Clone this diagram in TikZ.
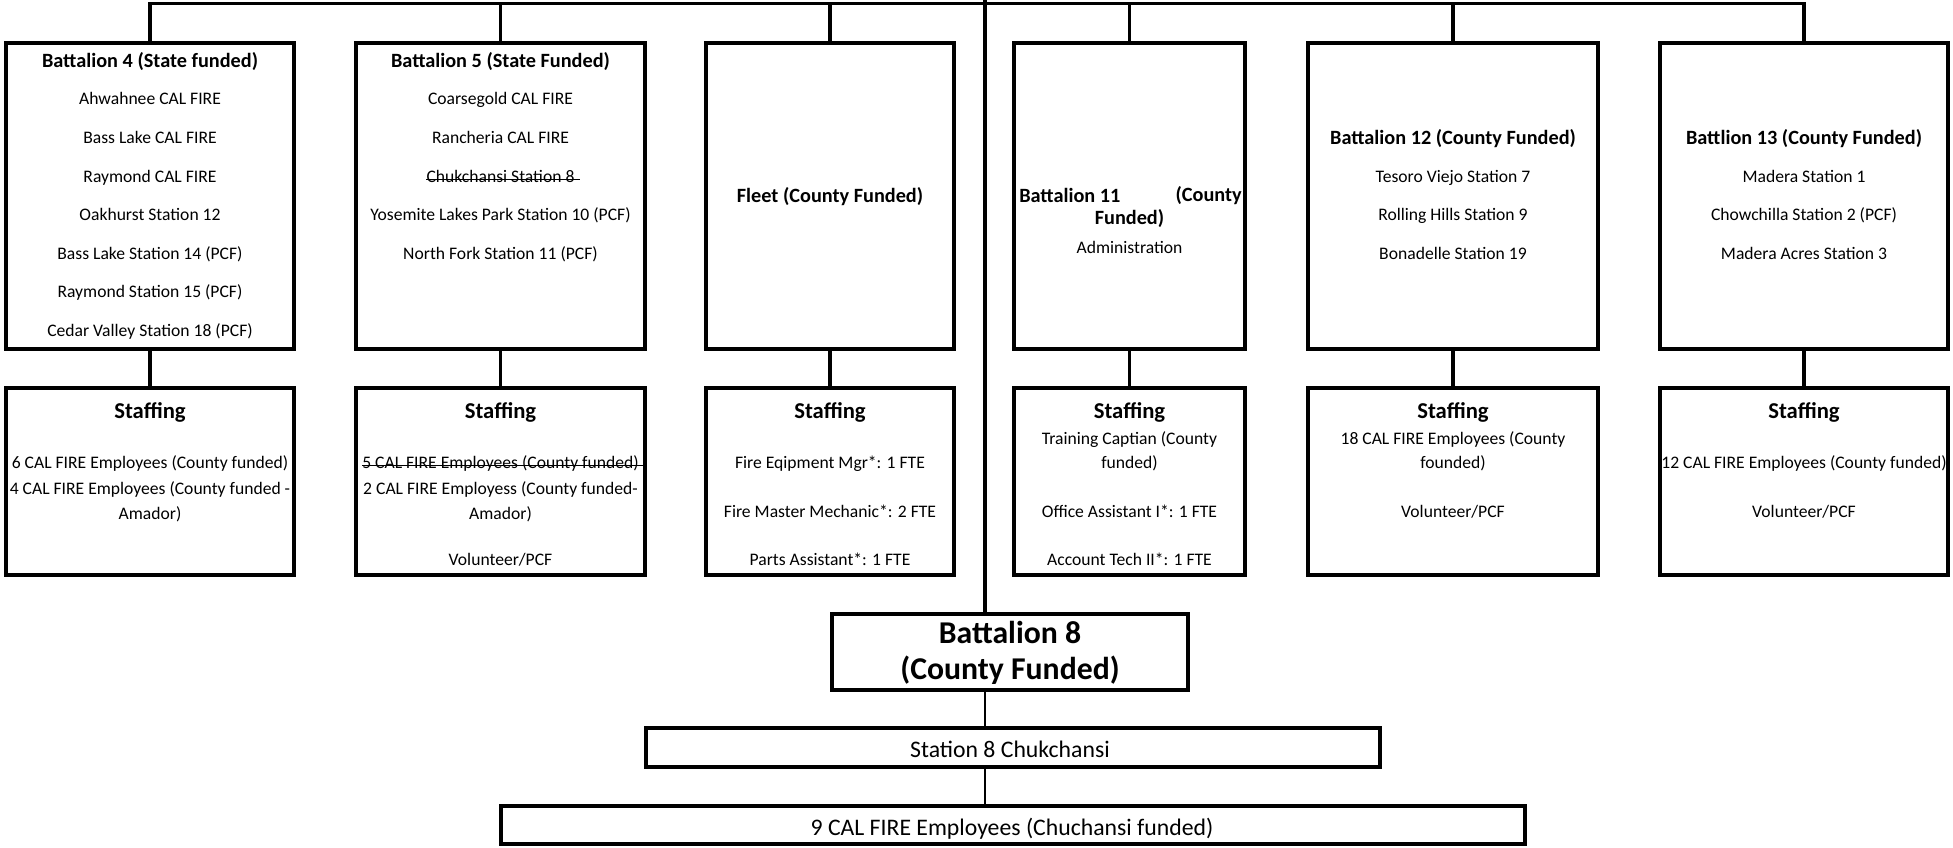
\documentclass[tikz,border=0pt]{standalone}
\usepackage{fontspec}
\setmainfont{Carlito}
\usetikzlibrary{fit}
\begin{document}
\begin{tikzpicture}[x=0.75pt, y=-0.75pt,
  box/.style={draw, line width=3.4pt, inner sep=0pt},
  conn/.style={line width=2.3pt},
  thinconn/.style={line width=1.6pt},
  strike/.style={line width=0.9pt},
  txt/.style={inner sep=0pt, anchor=mid, yshift=-2.6pt, font=\fontsize{13.2}{15}\selectfont},
  ttl/.style={txt, font=\bfseries\fontsize{15.2}{18}\selectfont},
  stf/.style={txt, font=\bfseries\fontsize{17}{20}\selectfont},
  bigttl/.style={txt, font=\bfseries\fontsize{23.8}{26}\selectfont},
  lowtxt/.style={txt, font=\fontsize{17.8}{20}\selectfont},
]
\useasboundingbox (0,0) rectangle (1953,847);

% row 1 boxes
\node[box, fit={(6,43) (294,349)}] (b4) {};
\node[box, fit={(356,43) (645,349)}] (b5) {};
\node[box, fit={(706,43) (954,349)}] (bf) {};
\node[box, fit={(1014,43) (1245,349)}] (b11) {};
\node[box, fit={(1308,43) (1598,349)}] (b12) {};
\node[box, fit={(1660,43) (1948,349)}] (b13) {};
% row 2 boxes
\node[box, fit={(6,388) (294,575)}] (s4) {};
\node[box, fit={(356,388) (645,575)}] (s5) {};
\node[box, fit={(706,388) (954,575)}] (sf) {};
\node[box, fit={(1014,388) (1245,575)}] (s11) {};
\node[box, fit={(1308,388) (1598,575)}] (s12) {};
\node[box, fit={(1660,388) (1948,575)}] (s13) {};
% bottom boxes
\node[box, fit={(832,614) (1188,690)}] (b8) {};
\node[box, fit={(646,728) (1380,767)}] (st8) {};
\node[box, fit={(501,806) (1525,844)}] (e9) {};

% connectors
\coordinate (tl) at (150,3.5);
\coordinate (tr) at (1804,3.5);
\coordinate (ctop) at (985,0);
\draw[conn] (b4.north) -- (tl) -- (tr) -- (b13.north);
\draw[conn] (b5.north) -- (b5.north |- tl);
\draw[conn] (bf.north) -- (bf.north |- tl);
\draw[conn] (b11.north) -- (b11.north |- tl);
\draw[conn] (b12.north) -- (b12.north |- tl);
\draw[conn] (ctop) -- (ctop |- b8.north);
\foreach \a/\b in {b4/s4, b5/s5, bf/sf, b11/s11, b12/s12, b13/s13}
  \draw[conn] (\a.south) -- (\b.north);
\draw[thinconn] (ctop |- b8.south) -- (ctop |- st8.north);
\draw[thinconn] (ctop |- st8.south) -- (ctop |- e9.north);

% Battalion 4
\node[ttl] (b4t) at (150,61) {Battalion 4 (State funded)};
\node[txt] (b4a) at (150,98) {Ahwahnee CAL FIRE};
\node[txt] (b4b) at (150,137) {Bass Lake CAL FIRE};
\node[txt] (b4c) at (150,176) {Raymond CAL FIRE};
\node[txt] (b4d) at (150,214) {Oakhurst Station 12};
\node[txt] (b4e) at (150,253) {Bass Lake Station 14 (PCF)};
\node[txt] (b4f) at (150,291) {Raymond Station 15 (PCF)};
\node[txt] (b4g) at (150,330) {Cedar Valley Station 18 (PCF)};
% Battalion 5
\node[ttl] (b5t) at (500.5,61) {Battalion 5 (State Funded)};
\node[txt] (b5a) at (500.5,98) {Coarsegold CAL FIRE};
\node[txt] (b5b) at (500.5,137) {Rancheria CAL FIRE};
\node[txt] (b5c) at (500.5,176) {Chukchansi Station 8};
\draw[strike] (b5c.mid west) -- ([xshift=4]b5c.mid east);
\node[txt] (b5d) at (500.5,214) {Yosemite Lakes Park Station 10 (PCF)};
\node[txt] (b5e) at (500.5,253) {North Fork Station 11 (PCF)};
% Fleet
\node[ttl] (bft) at (830,196) {Fleet (County Funded)};
% Battalion 11
\node[ttl, anchor=west] (b11t1) at (1019,192) {Battalion 11};
\node[ttl, anchor=east] (b11t2) at (1242,192) {(County};
\node[ttl] (b11t3) at (1129.5,218) {Funded)};
\node[txt] (b11a) at (1129.5,247) {Administration};
% Battalion 12
\node[ttl] (b12t) at (1453,138) {Battalion 12 (County Funded)};
\node[txt] (b12a) at (1453,176) {Tesoro Viejo Station 7};
\node[txt] (b12b) at (1453,214) {Rolling Hills Station 9};
\node[txt] (b12c) at (1453,253) {Bonadelle Station 19};
% Battalion 13
\node[ttl] (b13t) at (1804,138) {Battlion 13 (County Funded)};
\node[txt] (b13a) at (1804,176) {Madera Station 1};
\node[txt] (b13b) at (1804,214) {Chowchilla Station 2 (PCF)};
\node[txt] (b13c) at (1804,253) {Madera Acres Station 3};

% Staffing row
\node[stf] (s4t) at (150,412) {Staffing};
\node[txt] (s4a) at (150,462) {6 CAL FIRE Employees (County funded)};
\node[txt] (s4b) at (150,488) {4 CAL FIRE Employees (County funded -};
\node[txt] (s4c) at (150,513) {Amador)};

\node[stf] (s5t) at (500.5,412) {Staffing};
\node[txt] (s5a) at (500.5,462) {5 CAL FIRE Employees (County funded)};
\draw[strike] (s5a.mid west) -- (s5a.mid west -| s5.east);
\node[txt] (s5b) at (500.5,488) {2 CAL FIRE Employess (County funded-};
\node[txt] (s5c) at (500.5,513) {Amador)};
\node[txt] (s5d) at (500.5,559) {Volunteer/PCF};

\node[stf] (sft) at (830,412) {Staffing};
\node[txt] (sfa) at (830,462) {Fire Eqipment Mgr*: 1 FTE};
\node[txt] (sfb) at (830,511) {Fire Master Mechanic*: 2 FTE};
\node[txt] (sfc) at (830,559) {Parts Assistant*: 1 FTE};

\node[stf] (s11t) at (1129.5,412) {Staffing};
\node[txt] (s11a) at (1129.5,438) {Training Captian (County};
\node[txt] (s11b) at (1129.5,462) {funded)};
\node[txt] (s11c) at (1129.5,511) {Office Assistant I*: 1 FTE};
\node[txt] (s11d) at (1129.5,559) {Account Tech II*: 1 FTE};

\node[stf] (s12t) at (1453,412) {Staffing};
\node[txt] (s12a) at (1453,438) {18 CAL FIRE Employees (County};
\node[txt] (s12b) at (1453,462) {founded)};
\node[txt] (s12c) at (1453,511) {Volunteer/PCF};

\node[stf] (s13t) at (1804,412) {Staffing};
\node[txt] (s13a) at (1804,462) {12 CAL FIRE Employees (County funded)};
\node[txt] (s13b) at (1804,511) {Volunteer/PCF};

% bottom
\node[bigttl] (b8a) at (1010,637) {Battalion 8};
\node[bigttl] (b8b) at (1010,673) {(County Funded)};
\node[lowtxt] (st8t) at (1010,751) {Station 8 Chukchansi};
\node[lowtxt] (e9t) at (1012,829) {9 CAL FIRE Employees (Chuchansi funded)};
\end{tikzpicture}
\end{document}
